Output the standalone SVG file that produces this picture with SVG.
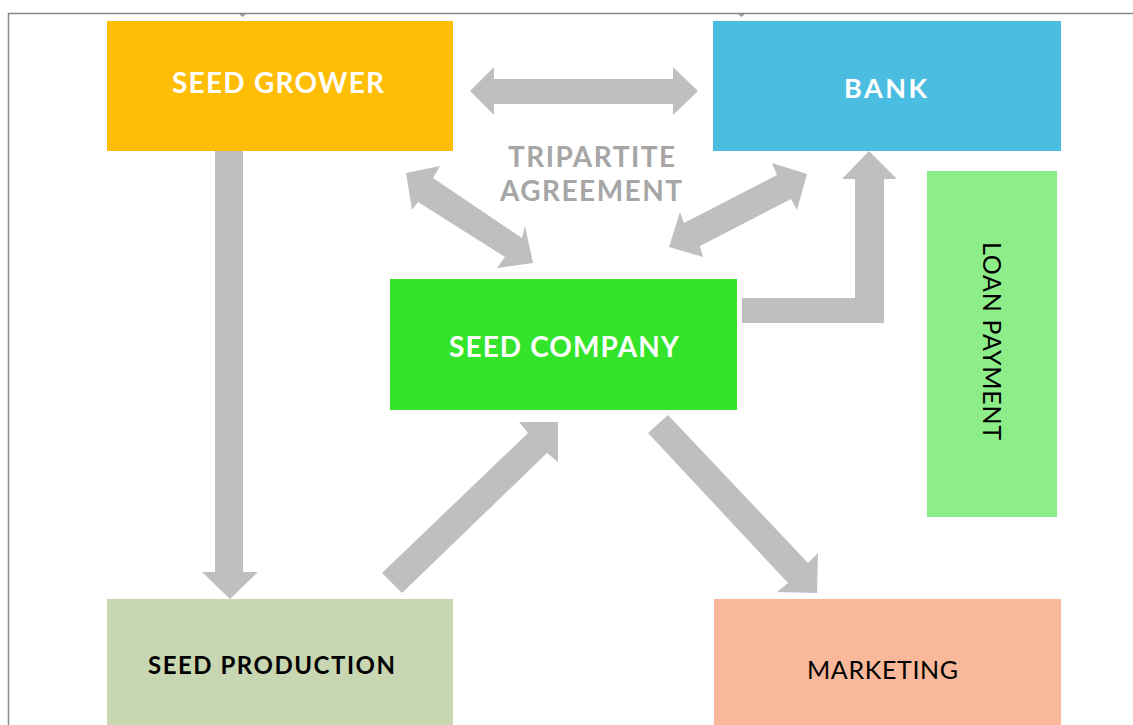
<svg xmlns="http://www.w3.org/2000/svg" width="1133" height="725" viewBox="0 0 1133 725">
  <style>
    .lbl { font-family: Lato, "Open Sans", "Liberation Sans", sans-serif; }
    .w { fill: #FFFFFF; font-weight: 700; }
    .k { fill: #000000; font-weight: 400; }
    .g { fill: #A6A6A6; font-weight: 700; }
    .arrow { fill: #BFBFBF; }
  </style>
  <rect width="1133" height="725" fill="#FFFFFF"/>
  <g id="frame">
    <path d="M8.5 725 V13.5 H1133" fill="none" stroke="#8A8A8A" stroke-width="1.5"/>
    <polygon points="239,14 246,14 242.5,17" fill="#9A9A9A"/>
    <polygon points="738,14 745,14 741.5,17" fill="#9A9A9A"/>
  </g>
  <g id="connectors">
    <polygon class="arrow" points="470,91 494,67 494,79 673,79 673,67 698,91 673,115 673,104 494,104 494,115"/>
    <polygon class="arrow" points="215,151 243,151 243,572 258,572 230,599 202,572 215,572"/>
    <polygon class="arrow" points="406,173 440,166 433,178 522,238 525,226 533,263 497,268 505,257 418,202 412,210"/>
    <polygon class="arrow" points="807,174 797,210 791,199 700,246 703,257 669,247 680,212 684,223 777,175 772,163"/>
    <polygon class="arrow" points="742,298 855,298 855,179 842,179 869,151 897,179 884,179 884,323 742,323"/>
    <polygon class="arrow" points="382,573 528,433 519,422 558,422 558,462 547,453 402,593"/>
    <polygon class="arrow" points="668,415 808,563 818,553 817,593 777,592 788,583 648,433"/>
  </g>
  <g id="tripartite-label">
    <text class="lbl g" x="591.5" y="167" text-anchor="middle" font-size="28" textLength="167">TRIPARTITE</text>
    <text class="lbl g" x="591" y="201" text-anchor="middle" font-size="28" textLength="182">AGREEMENT</text>
  </g>
  <g id="seed-grower">
    <rect x="107" y="21" width="346" height="130" fill="#FFBE06"/>
    <text class="lbl w" x="278" y="93" text-anchor="middle" font-size="28" textLength="212">SEED GROWER</text>
  </g>
  <g id="bank">
    <rect x="713" y="21" width="348" height="130" fill="#4BBDE1"/>
    <text class="lbl w" x="885.5" y="98" text-anchor="middle" font-size="27" textLength="83">BANK</text>
  </g>
  <g id="seed-company">
    <rect x="390" y="279" width="347" height="131" fill="#33E42B"/>
    <text class="lbl w" x="564" y="357" text-anchor="middle" font-size="28" textLength="230">SEED COMPANY</text>
  </g>
  <g id="loan-payment">
    <rect x="927" y="171" width="130" height="346" fill="#8DED88"/>
    <text class="lbl k" transform="translate(983,341) rotate(90)" text-anchor="middle" font-size="25" textLength="198">LOAN PAYMENT</text>
  </g>
  <g id="seed-production">
    <rect x="107" y="599" width="346" height="126" fill="#C8D7B2"/>
    <text class="lbl k" x="271.5" y="674" text-anchor="middle" font-size="24" style="font-weight:700" textLength="247">SEED PRODUCTION</text>
  </g>
  <g id="marketing">
    <rect x="714" y="599" width="347" height="126" fill="#F9B89A"/>
    <text class="lbl k" x="882.5" y="679" text-anchor="middle" font-size="25" textLength="151">MARKETING</text>
  </g>
</svg>
